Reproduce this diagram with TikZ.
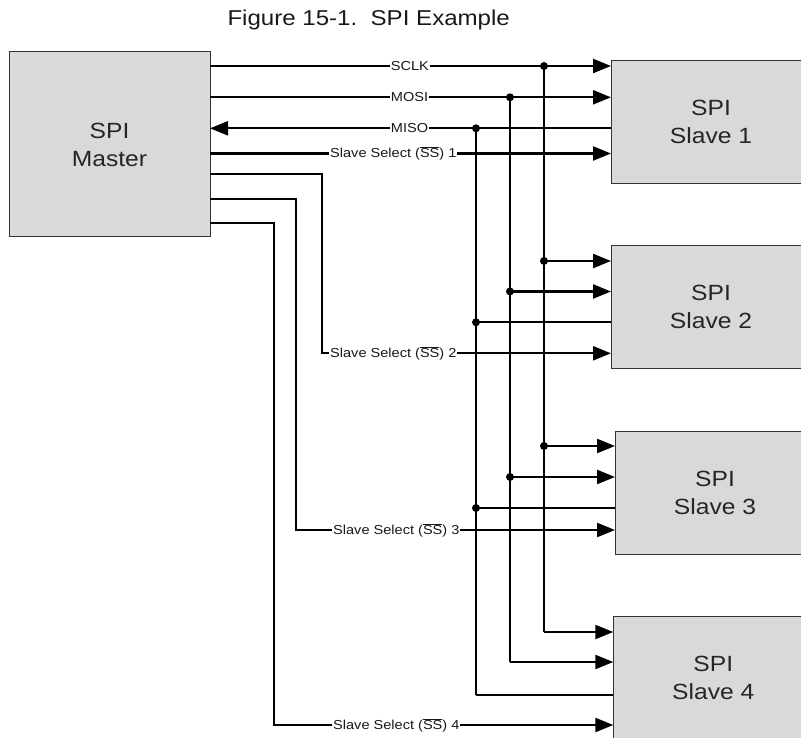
\documentclass[tikz,border=0pt]{standalone}
\usepackage{fontspec}
\setmainfont{Liberation Sans}[FakeStretch=1.12]
\usetikzlibrary{arrows.meta}
\definecolor{boxgray}{HTML}{D9D9D9}
\definecolor{edgegray}{HTML}{333333}
\tikzset{
  unitbox/.style={draw=edgegray, line width=1pt, fill=boxgray, inner sep=0pt, outer sep=0pt,
    minimum width=200pt, align=center, font=\fontsize{22}{28}\selectfont, text=black!85},
  wire/.style={line width=2.3pt, black},
  arr/.style={wire, -{Triangle[length=18pt,width=14pt]}},
  sig/.style={fill=white, inner xsep=1pt, inner ysep=0pt, anchor=west,
    font=\fontsize{13}{15}\selectfont, text=black!90},
  junc/.style={circle, fill=black, inner sep=0pt, minimum size=8pt},
}
\newcommand{\ssbar}{$\overline{\mbox{SS}}$}
\begin{document}
\begin{tikzpicture}[x=1pt,y=-1pt]
\useasboundingbox (0,0) rectangle (801,738);
\clip (0,0) rectangle (801,738);

\node[font=\fontsize{21.5}{24}\selectfont, text=black!90] (title) at (368.7,20) {Figure 15-1.\ \ SPI Example};

\node[unitbox, minimum width=201pt, minimum height=185pt] (master) at (109.5,144.5) {SPI\\Master};
\node[unitbox, minimum height=123.3pt] (s1) at (711,121.7) {SPI\\Slave 1};
\node[unitbox, minimum height=122.6pt] (s2) at (711,307) {SPI\\Slave 2};
\node[unitbox, minimum height=123.3pt] (s3) at (715,492.7) {SPI\\Slave 3};
\node[unitbox, minimum height=123.3pt] (s4) at (713.3,678.3) {SPI\\Slave 4};

% junctions on the top lines
\coordinate (jc1) at (544,66);
\coordinate (jm1) at (510,97.3);
\coordinate (ji1) at (476,128.3);
% bus corners
\coordinate (jc4) at (544,632);
\coordinate (jm4) at (510,662);
\coordinate (ji4) at (476,695);
% junctions for slave 2 and 3
\coordinate (jc2) at (544,261);
\coordinate (jm2) at (510,291.5);
\coordinate (ji2) at (476,322.3);
\coordinate (jc3) at (544,446);
\coordinate (jm3) at (510,477);
\coordinate (ji3) at (476,508);
% slave select corners
\coordinate (ss2a) at (322,174.3);
\coordinate (ss2b) at (322,353.3);
\coordinate (ss3a) at (296,199);
\coordinate (ss3b) at (296,530);
\coordinate (ss4a) at (274,222.7);
\coordinate (ss4b) at (274,725);

% top signals
\draw[arr] (master.east |- jc1) -- (s1.west |- jc1);
\draw[arr] (master.east |- jm1) -- (s1.west |- jm1);
\draw[arr] (s1.west |- ji1) -- (master.east |- ji1);
\draw[arr] (master.east |- 0,153.5) -- (s1.west |- 0,153.5);

% buses
\draw[wire] (jc1) -- (jc4);
\draw[wire] (jm1) -- (jm4);
\draw[wire] (ji1) -- (ji4);
\draw[arr] (jc4) -- (s4.west |- jc4);
\draw[arr] (jm4) -- (s4.west |- jm4);
\draw[wire] (ji4) -- (s4.west |- ji4);

\draw[arr] (jc2) -- (s2.west |- jc2);
\draw[arr] (jm2) -- (s2.west |- jm2);
\draw[wire] (ji2) -- (s2.west |- ji2);
\draw[arr] (jc3) -- (s3.west |- jc3);
\draw[arr] (jm3) -- (s3.west |- jm3);
\draw[wire] (ji3) -- (s3.west |- ji3);

% slave selects
\draw[arr] (master.east |- ss2a) -- (ss2a) -- (ss2b) -- (s2.west |- ss2b);
\draw[arr] (master.east |- ss3a) -- (ss3a) -- (ss3b) -- (s3.west |- ss3b);
\draw[arr] (master.east |- ss4a) -- (ss4a) -- (ss4b) -- (s4.west |- ss4b);

% junction dots
\foreach \j in {jc1,jm1,ji1,jc2,jm2,ji2,jc3,jm3,ji3}
  \node[junc] at (\j) {};

% labels
\node[sig] (lsclk) at (389.7,66) {SCLK};
\node[sig] (lmosi) at (389.7,97.3) {MOSI};
\node[sig] (lmiso) at (389.7,128.3) {MISO};
\node[sig] (lss1) at (329,153.5) {Slave Select (\ssbar) 1};
\node[sig] (lss2) at (329,353.3) {Slave Select (\ssbar) 2};
\node[sig] (lss3) at (332,530) {Slave Select (\ssbar) 3};
\node[sig] (lss4) at (332,725) {Slave Select (\ssbar) 4};
\end{tikzpicture}
\end{document}
